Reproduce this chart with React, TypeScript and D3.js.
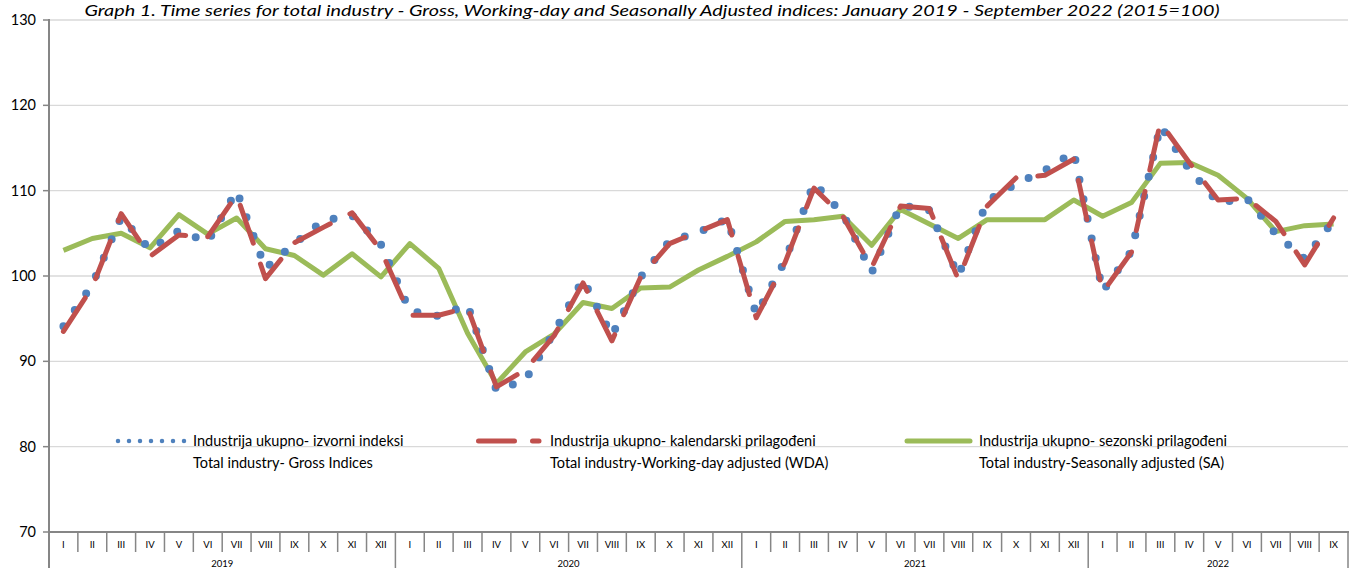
import React from 'react'
import { scaleBand, scaleLinear, line } from 'd3'

// categories
const monthNames = ['I', 'II', 'III', 'IV', 'V', 'VI', 'VII', 'VIII', 'IX', 'X', 'XI', 'XII']
const years = ['2019', '2020', '2021', '2022']
const monthsInYear = [12, 12, 12, 9]
const yTicks = [70, 80, 90, 100, 110, 120, 130]

// series (2015=100)
const gross = [
    94.1, 99.0, 106.9, 103.1, 105.3, 104.0, 110.0, 100.9, 103.8, 106.5, 107.1, 103.7,
    95.9, 95.3, 96.6, 86.6, 87.8, 93.4, 99.6, 93.0, 99.9, 104.1, 105.1, 106.7,
    95.5, 101.8, 110.9, 107.3, 100.4, 108.3, 107.7, 100.0, 108.8, 110.8, 112.4, 114.5,
    98.2, 102.9, 117.6, 112.5, 108.6, 109.1, 104.9, 102.0, 106.5,
]
const wda = [
    93.5, 98.7, 107.3, 102.3, 104.8, 104.6, 109.5, 99.7, 103.9, 105.7, 107.4, 103.0,
    95.4, 95.4, 96.3, 87.0, 89.0, 93.0, 99.2, 92.4, 99.9, 103.8, 105.2, 106.6,
    95.1, 101.6, 110.3, 107.0, 101.0, 108.2, 107.9, 99.6, 108.2, 111.5, 111.8, 113.7,
    98.1, 102.8, 118.0, 113.3, 108.9, 109.1, 106.4, 101.3, 106.8,
]
const sa = [
    103.0, 104.4, 105.0, 103.3, 107.2, 104.9, 106.8, 103.2, 102.4, 100.1, 102.6, 99.9,
    103.8, 100.9, 93.3, 87.4, 91.1, 93.2, 96.9, 96.2, 98.6, 98.7, 100.7, 102.3,
    104.0, 106.4, 106.6, 107.0, 103.6, 107.8, 106.1, 104.4, 106.6, 106.6, 106.6, 108.9,
    107.0, 108.6, 113.2, 113.3, 111.8, 109.1, 105.2, 105.9, 106.1,
]

const legendItems = [
    { l1: 'Industrija ukupno- izvorni indeksi', l2: 'Total industry- Gross Indices' },
    { l1: 'Industrija ukupno- kalendarski prilagođeni', l2: 'Total industry-Working-day adjusted (WDA)' },
    { l1: 'Industrija ukupno- sezonski prilagođeni', l2: 'Total industry-Seasonally adjusted (SA)' },
]

const title = 'Graph 1. Time series for total industry - Gross, Working-day and Seasonally Adjusted indices: January 2019 - September 2022 (2015=100)'

const W = 1357
const H = 568
const FONT = 'Lato, Carlito, Calibri, "Liberation Sans", sans-serif'
const BLUE = '#4F81BD'
const RED = '#C0504D'
const GREEN = '#9BBB59'

const categories = years.flatMap((y, yi) => monthNames.slice(0, monthsInYear[yi]).map(m => `${m} ${y}`))

const App = () => {
    const x = scaleBand<number>()
        .domain(categories.map((_, i) => i))
        .range([49, 1348])
        .paddingInner(0)
        .paddingOuter(0)
    const bw = x.bandwidth()
    const cx = (i: number) => (x(i) as number) + bw / 2

    const y = scaleLinear().domain([70, 130]).range([532, 20])

    const mkLine = line<number>()
        .x((_, i) => cx(i))
        .y(v => y(v))

    const yearStarts: number[] = []
    let acc = 0
    monthsInYear.forEach(n => { yearStarts.push(acc); acc += n })

    return (
        <svg width={W} height={H} style={{ position: 'absolute', left: 0, top: 0, background: '#fff' }}
            fontFamily={FONT}>
            <text x={652} y={16} textAnchor="middle" fontSize={16} fontStyle="italic" fill="#000"
                textLength={1135} lengthAdjust="spacingAndGlyphs">{title}</text>

            {/* grid + y axis */}
            {yTicks.map(t => (
                <g key={t}>
                    {t > 70 && <line x1={49} x2={1348} y1={y(t)} y2={y(t)} stroke="#d9d9d9" strokeWidth={1.3} />}
                    <line x1={43} x2={49} y1={y(t)} y2={y(t)} stroke="#868686" strokeWidth={1.5} />
                    <text x={36} y={y(t) + 5} textAnchor="end" fontSize={14.5} fill="#000">{t}</text>
                </g>
            ))}
            <line x1={49} x2={49} y1={19} y2={568} stroke="#868686" strokeWidth={2} />

            {/* x axis */}
            <line x1={48} x2={1349} y1={532} y2={532} stroke="#868686" strokeWidth={2} />
            {categories.map((c, i) => (
                <g key={c}>
                    {i > 0 && !yearStarts.includes(i) &&
                        <line x1={x(i)} x2={x(i)} y1={532} y2={552} stroke="#868686" strokeWidth={1.5} />}
                    <text x={cx(i)} y={548} textAnchor="middle" fontSize={9.5} fill="#000">
                        {c.split(' ')[0]}
                    </text>
                </g>
            ))}
            {yearStarts.slice(1).map(s => (
                <line key={s} x1={x(s)} x2={x(s)} y1={532} y2={568} stroke="#868686" strokeWidth={1.5} />
            ))}
            <line x1={1348} x2={1348} y1={532} y2={568} stroke="#868686" strokeWidth={1.5} />
            {years.map((yr, yi) => {
                const s = yearStarts[yi]
                const e = s + monthsInYear[yi]
                const mid = ((x(s) as number) + (x(e - 1) as number) + bw) / 2
                return <text key={yr} x={mid} y={567} textAnchor="middle" fontSize={9.5} fill="#000">{yr}</text>
            })}

            {/* series */}
            <path d={mkLine(sa) ?? ''} fill="none" stroke={GREEN} strokeWidth={5} strokeLinejoin="round" />
            <path d={mkLine(gross) ?? ''} fill="none" stroke={BLUE} strokeWidth={8}
                strokeDasharray="0 20" strokeLinecap="round" />
            <path d={mkLine(wda) ?? ''} fill="none" stroke={RED} strokeWidth={5}
                strokeDasharray="40 22" strokeLinecap="round" strokeLinejoin="round" />

            {/* legend */}
            <line x1={118} x2={185} y1={441} y2={441} stroke={BLUE} strokeWidth={4.5}
                strokeDasharray="0 11" strokeLinecap="round" />
            <line x1={478.5} x2={539} y1={441} y2={441} stroke={RED} strokeWidth={5}
                strokeDasharray="36 18" strokeLinecap="round" />
            <line x1={907} x2={970} y1={441} y2={441} stroke={GREEN} strokeWidth={5} strokeLinecap="round" />
            {legendItems.map((it, i) => {
                const tx = [193, 550, 979][i]
                return (
                    <g key={i} fontSize={14.5} fill="#000">
                        <text x={tx} y={446}>{it.l1}</text>
                        <text x={tx} y={468}>{it.l2}</text>
                    </g>
                )
            })}
        </svg>
    )
}

export default App
